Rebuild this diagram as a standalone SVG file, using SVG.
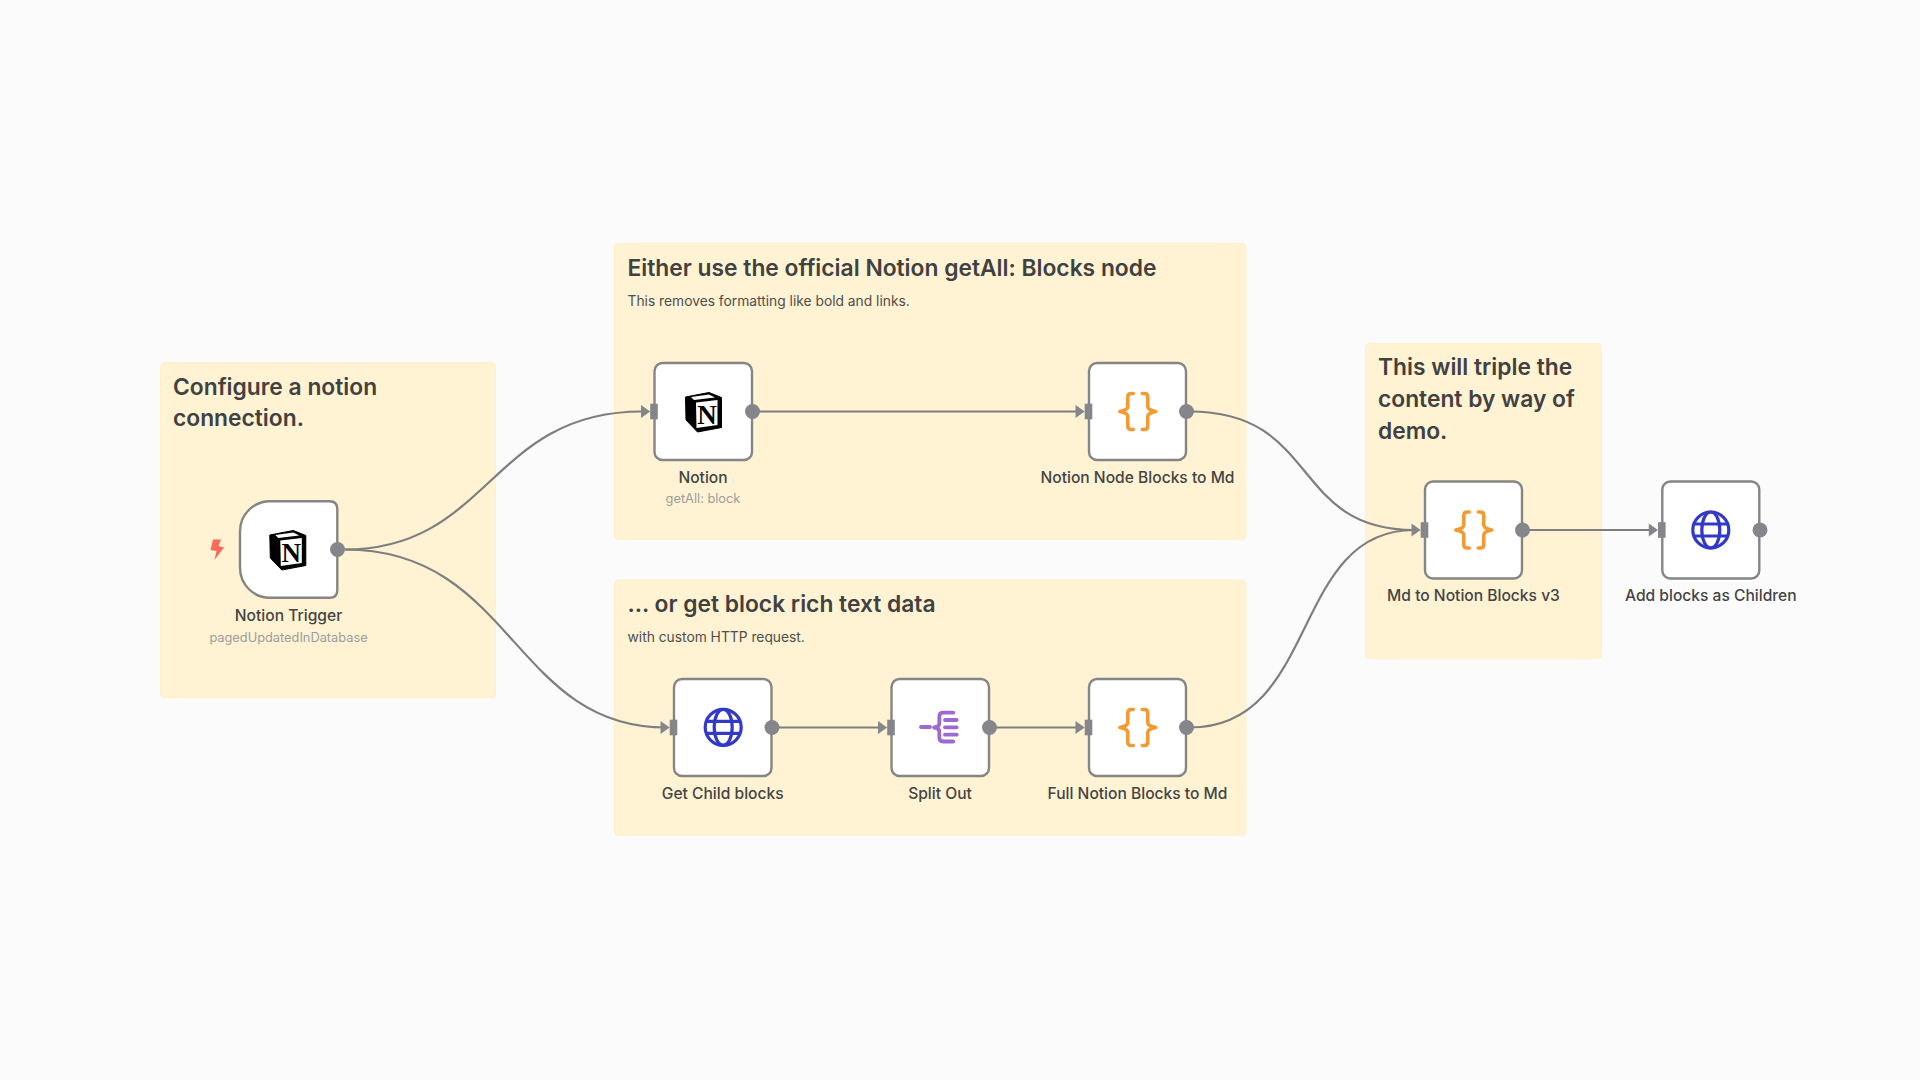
<svg xmlns="http://www.w3.org/2000/svg" width="1920" height="1080" viewBox="0 0 1920 1080">
<style>
text{font-family:Inter,"Liberation Sans",sans-serif}
.sticky{fill:#fff3d3;stroke:#fef0c8;stroke-width:1}
.h{font-size:22.8px;font-weight:600;fill:#414141}
.b{font-size:13.8px;fill:#4d4d4d}
.box{fill:#fff;stroke:#858585;stroke-width:2.4}
.l{font-size:15.6px;font-weight:500;fill:#444}
.s{font-size:12.8px;fill:#9c9c9c}
.l,.s{text-anchor:middle}
.dot{fill:#85868b}
.c{fill:none;stroke:#7e7e7e;stroke-width:2.2}
.ge{fill:none;stroke:#3239c8;stroke-width:3.2}
.br{fill:none;stroke:#f29b33;stroke-width:3.6;stroke-linecap:round;stroke-linejoin:round}
.sp{fill:none;stroke:#9b6bd3;stroke-width:3.8;stroke-linecap:round;stroke-linejoin:round}
.n{font-family:"Liberation Serif",serif;font-size:27px;font-weight:700;fill:#000;text-anchor:middle}
</style>
<defs>
<g id="port"><rect x="-3.8" y="-7.8" width="7.6" height="15.6" fill="#85868b"/><path d="M-13,-6.5 L-3.8,0 L-13,6.5 Z" fill="#85868b"/></g>
<g id="notion"><path d="M-17.5,-15 L6,-19.5 L18.5,-14.5 V15.5 L-5.5,20 L-17,8 Z" fill="#000" stroke="#000" stroke-linejoin="round"/><path d="M-12,-15 L6,-17.5 L12,-14.5 L-9,-12 Z M-7,-9.5 L14.5,-12 V13 L-6.5,16 Z" fill="#fff"/><text class="n" x="4" y="11.7">N</text></g>
<g id="code"><path class="br" d="M-4.5,-18 H-6.5 Q-10,-18 -10,-14.5 V-5 Q-10,-1.5 -18,0 Q-10,1.5 -10,5 V14.5 Q-10,18 -6.5,18 H-4.5 M4.5,-18 H6.5 Q10,-18 10,-14.5 V-5 Q10,-1.5 18,0 Q10,1.5 10,5 V14.5 Q10,18 6.5,18 H4.5"/></g>
<g id="globe"><circle class="ge" r="18"/><ellipse class="ge" rx="9" ry="18"/><path class="ge" d="M-16.5,-6 H16.5 M-16.5,6 H16.5"/></g>
<g id="split"><path class="sp" d="M-19,-0.5 H-10 M13.3,-14.8 H3.3 Q-0.7,-14.8 -0.7,-10.8 V-4 Q-0.7,-0.8 -6,0 Q-0.7,0.8 -0.7,4 V10 Q-0.7,14 3.3,14 H13.3 M5,-7.5 H16.7 M5,-0.2 H16.7 M5,7.2 H16.7"/></g>
</defs>
<rect width="1920" height="1080" fill="#fbfbfb"/>

<g id="sticky-config"><rect class="sticky" x="160.5" y="362.5" width="335" height="335" rx="4"/><text class="h" x="173" y="394.5">Configure a notion</text><text class="h" x="173" y="426">connection.</text></g>
<g id="sticky-official"><rect class="sticky" x="614.5" y="243.5" width="631.5" height="296" rx="4"/><text class="h" x="627.5" y="275.5">Either use the official Notion getAll: Blocks node</text><text class="b" x="627.5" y="306">This removes formatting like bold and links.</text></g>
<g id="sticky-http"><rect class="sticky" x="614.5" y="580" width="631.5" height="255.5" rx="4"/><text class="h" x="627.5" y="612">... or get block rich text data</text><text class="b" x="627.5" y="642">with custom HTTP request.</text></g>
<g id="sticky-triple"><rect class="sticky" x="1365.5" y="343.5" width="236" height="315" rx="4"/><text class="h" x="1378" y="375">This will triple the</text><text class="h" x="1378" y="407">content by way of</text><text class="h" x="1378" y="438.5">demo.</text></g>

<g id="connectors">
<path class="c" d="M345,549.5 C490,549.5 490,411.5 642,411.5"/>
<path class="c" d="M345,549.5 C513,549.5 513,727.5 666,727.5"/>
<path class="c" d="M753,411.5 H1080"/>
<path class="c" d="M1190,411.5 C1320,411.5 1290,530 1414,530"/>
<path class="c" d="M772,727.5 H883"/>
<path class="c" d="M990,727.5 H1080"/>
<path class="c" d="M1190,727.5 C1320,727.5 1290,530 1414,530"/>
<path class="c" d="M1523,530 H1653"/>
</g>

<g id="node-trigger"><path class="box" d="M270,501.2 H329.5 Q337.3,501.2 337.3,509 V590 Q337.3,597.8 329.5,597.8 H270 A30,30 0 0 1 240,567.8 V531.2 A30,30 0 0 1 270,501.2 Z"/><path d="M213,539.5 L221,539.5 L218.5,546 L224,547.5 L214.5,560 L216.5,551 L210.5,550 Z" fill="#f76b5b"/><use href="#notion" x="287.3" y="550"/><circle class="dot" cx="337.5" cy="549.5" r="7.5"/><text class="l" x="288.5" y="621">Notion Trigger</text><text class="s" x="288.5" y="642">pagedUpdatedInDatabase</text></g>
<g id="node-notion"><rect class="box" x="654.5" y="363" width="97.5" height="97" rx="8"/><use href="#port" x="654" y="411.5"/><use href="#notion" x="703" y="412"/><circle class="dot" cx="752.5" cy="411.5" r="7.5"/><text class="l" x="703" y="482.7">Notion</text><text class="s" x="703" y="503.3">getAll: block</text></g>
<g id="node-blocks-md"><rect class="box" x="1089" y="363" width="97" height="97" rx="8"/><use href="#port" x="1088.5" y="411.5"/><use href="#code" x="1137.8" y="411.5"/><circle class="dot" cx="1186.5" cy="411.5" r="7.5"/><text class="l" x="1137.5" y="482.7">Notion Node Blocks to Md</text></g>
<g id="node-child"><rect class="box" x="674" y="679" width="97.5" height="97" rx="8"/><use href="#port" x="673.5" y="727.5"/><use href="#globe" x="723.2" y="727.3"/><circle class="dot" cx="772" cy="727.5" r="7.5"/><text class="l" x="722.7" y="798.5">Get Child blocks</text></g>
<g id="node-split"><rect class="box" x="891.5" y="679" width="97.5" height="97" rx="8"/><use href="#port" x="891" y="727.5"/><use href="#split" x="940" y="727.5"/><circle class="dot" cx="989.5" cy="727.5" r="7.5"/><text class="l" x="940" y="798.5">Split Out</text></g>
<g id="node-full"><rect class="box" x="1089" y="679" width="97" height="97" rx="8"/><use href="#port" x="1088.5" y="727.5"/><use href="#code" x="1137.8" y="727.5"/><circle class="dot" cx="1186.5" cy="727.5" r="7.5"/><text class="l" x="1137.5" y="798.5">Full Notion Blocks to Md</text></g>
<g id="node-md"><rect class="box" x="1425" y="481.5" width="97" height="97" rx="8"/><use href="#port" x="1424.5" y="530"/><use href="#code" x="1473.8" y="530"/><circle class="dot" cx="1522.5" cy="530" r="7.5"/><text class="l" x="1473.5" y="601">Md to Notion Blocks v3</text></g>
<g id="node-add"><rect class="box" x="1662.3" y="481.5" width="97" height="97" rx="8"/><use href="#port" x="1661.8" y="530"/><use href="#globe" x="1710.8" y="530"/><circle class="dot" cx="1760" cy="530" r="7.5"/><text class="l" x="1710.8" y="601">Add blocks as Children</text></g>
</svg>
